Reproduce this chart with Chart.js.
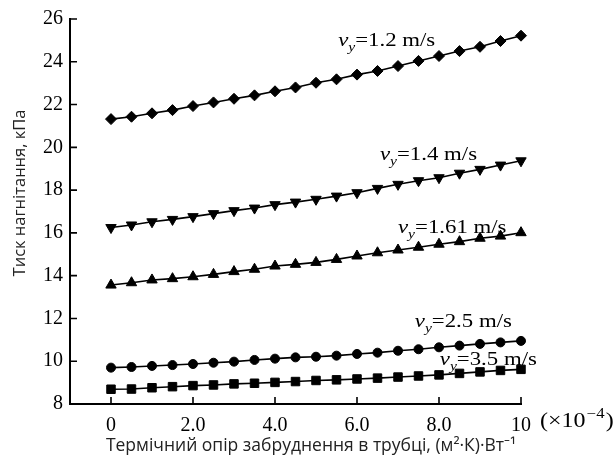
<!DOCTYPE html>
<html>
<head>
<meta charset="utf-8">
<script src="https://cdn.jsdelivr.net/npm/chart.js@4"></script>
<style>
  html, body { margin: 0; padding: 0; background: #fff; }
  #wrap { width: 615px; height: 462px; }
</style>
</head>
<body>
<div id="wrap"><canvas id="chart" width="615" height="462"></canvas></div>
<script>
// fouling resistance, x10^-4 (m2*K)/W
const xValues = [0, 0.5, 1, 1.5, 2, 2.5, 3, 3.5, 4, 4.5, 5, 5.5, 6, 6.5, 7, 7.5, 8, 8.5, 9, 9.5, 10];
const xTicks = [0, 2, 4, 6, 8, 10];

// discharge pressure, kPa
const v12 = [21.32, 21.43, 21.59, 21.74, 21.93, 22.10, 22.27, 22.43, 22.62, 22.80, 23.02, 23.18, 23.40, 23.57, 23.80, 24.04, 24.27, 24.50, 24.70, 24.97, 25.22];
const v14 = [16.25, 16.37, 16.52, 16.63, 16.76, 16.90, 17.04, 17.16, 17.32, 17.44, 17.57, 17.72, 17.88, 18.08, 18.27, 18.44, 18.58, 18.79, 18.97, 19.17, 19.37];
const v161 = [13.56, 13.67, 13.80, 13.86, 13.95, 14.06, 14.19, 14.30, 14.45, 14.53, 14.62, 14.76, 14.92, 15.07, 15.20, 15.33, 15.47, 15.59, 15.75, 15.85, 16.01];
const v25 = [9.70, 9.73, 9.78, 9.82, 9.87, 9.93, 9.98, 10.06, 10.12, 10.18, 10.21, 10.26, 10.34, 10.40, 10.49, 10.56, 10.65, 10.73, 10.81, 10.88, 10.95];
const v35 = [8.69, 8.70, 8.76, 8.81, 8.86, 8.89, 8.94, 8.97, 9.01, 9.05, 9.10, 9.13, 9.17, 9.21, 9.26, 9.31, 9.36, 9.43, 9.50, 9.57, 9.62];

const speeds = ['1.2', '1.4', '1.61', '2.5', '3.5'];
// where each curve label starts (data units, text baseline)
const labelAt = [
  { x: 5.54, y: 24.74 },
  { x: 6.56, y: 19.41 },
  { x: 7.00, y: 15.99 },
  { x: 7.41, y: 11.60 },
  { x: 8.02, y: 9.82 }
];

const serif = '"Liberation Serif", "Times New Roman", serif';
const sans = '"Open Sans", "Noto Sans", sans-serif';
const stretch = 1.2; // the scanned serif text is a bit wide

const makeSet = (vals, style, radius, rotation) => ({
  data: vals.map((v, i) => ({ x: xValues[i], y: v })),
  borderColor: '#000',
  borderWidth: 1.6,
  backgroundColor: '#000',
  pointStyle: style,
  pointRadius: radius,
  pointRotation: rotation || 0,
  pointBackgroundColor: '#000',
  pointBorderColor: '#000',
  pointBorderWidth: 1,
  tension: 0,
  clip: false
});

// draws pieces of text one after another, stretched sideways
const drawRun = (ctx, x, y, parts) => {
  ctx.save();
  ctx.translate(x, y);
  ctx.scale(stretch, 1);
  let px = 0;
  parts.forEach(p => {
    ctx.font = p.font;
    ctx.fillText(p.text, px, p.dy || 0);
    px += ctx.measureText(p.text).width + (p.gap || 0);
  });
  ctx.restore();
};

// inward ticks, curve labels, axis titles
const decorations = {
  id: 'decorations',
  afterDraw(chart) {
    const ctx = chart.ctx;
    const xs = chart.scales.x;
    const ys = chart.scales.y;
    const area = chart.chartArea;
    ctx.save();
    ctx.strokeStyle = '#000';
    ctx.lineWidth = 1.6;
    ctx.beginPath();
    ys.ticks.forEach(t => {
      const py = ys.getPixelForValue(t.value);
      ctx.moveTo(area.left, py);
      ctx.lineTo(area.left + 7, py);
    });
    xs.ticks.forEach(t => {
      const px = xs.getPixelForValue(t.value);
      ctx.moveTo(px, area.bottom);
      ctx.lineTo(px, area.bottom - 7);
    });
    ctx.stroke();

    // curve labels
    ctx.fillStyle = '#000';
    ctx.textBaseline = 'alphabetic';
    ctx.textAlign = 'left';
    speeds.forEach((s, i) => {
      drawRun(ctx, xs.getPixelForValue(labelAt[i].x), ys.getPixelForValue(labelAt[i].y), [
        { text: 'v', font: 'italic 19px ' + serif },
        { text: 'y', font: 'italic 13px ' + serif, dy: 5 },
        { text: '=' + s + ' m/s', font: '19px ' + serif }
      ]);
    });

    // x10^-4 factor
    drawRun(ctx, xs.getPixelForValue(10) + 19, area.bottom + 23, [
      { text: '(×10', font: '20px ' + serif, gap: 1 },
      { text: '−4', font: '14px ' + serif, dy: -9, gap: 1 },
      { text: ')', font: '20px ' + serif }
    ]);

    // axis titles
    ctx.fillStyle = '#222';
    ctx.textAlign = 'center';
    ctx.textBaseline = 'middle';
    ctx.font = '17.5px ' + sans;
    ctx.fillText('Термічний опір забруднення в трубці, (м²·К)·Вт⁻¹', 311, 446);
    ctx.font = '16.5px ' + sans;
    ctx.translate(20, 193);
    ctx.rotate(-Math.PI / 2);
    ctx.fillText('Тиск нагнітання, кПа', 0, 0);
    ctx.restore();
  }
};

new Chart(document.getElementById('chart').getContext('2d'), {
  type: 'line',
  data: {
    datasets: [
      makeSet(v12, 'rectRot', 5.5),
      makeSet(v14, 'triangle', 6, 180),
      makeSet(v161, 'triangle', 6),
      makeSet(v25, 'circle', 4.5),
      makeSet(v35, 'rect', 6)
    ]
  },
  options: {
    responsive: false,
    animation: false,
    devicePixelRatio: 1,
    layout: { padding: { left: 0, top: 19, right: 94, bottom: 0 } },
    plugins: { legend: { display: false }, tooltip: { enabled: false } },
    scales: {
      x: {
        type: 'linear',
        min: -1,
        max: 10,
        afterBuildTicks: (scale) => { scale.ticks = xTicks.map(v => ({ value: v })); },
        afterFit: (scale) => { scale.height = 58; },
        grid: { display: false, drawTicks: false },
        border: { display: true, color: '#000', width: 2 },
        ticks: {
          color: '#000',
          padding: 10,
          maxRotation: 0,
          font: { family: serif, size: 20 },
          callback: (v) => (v === 0 || v === 10) ? String(v) : v.toFixed(1)
        }
      },
      y: {
        min: 8,
        max: 26,
        afterFit: (scale) => { scale.width = 70; },
        grid: { display: false, drawTicks: false },
        border: { display: true, color: '#000', width: 2 },
        ticks: {
          color: '#000',
          stepSize: 2,
          padding: 7,
          font: { family: serif, size: 20 }
        }
      }
    }
  },
  plugins: [decorations]
});
</script>
</body>
</html>
